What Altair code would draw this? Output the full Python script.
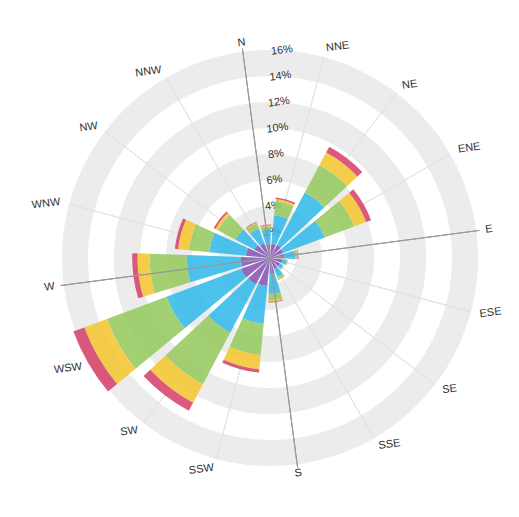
import math
import altair as alt
import pandas as pd

# ---------------- data ----------------
directions = ["N", "NNE", "NE", "ENE", "E", "ESE", "SE", "SSE",
              "S", "SSW", "SW", "WSW", "W", "WNW", "NW", "NNW"]
series_names = ["< 1 m/s", "1-3 m/s", "3-5 m/s", "5-7 m/s", "> 7 m/s"]
series_colors = ["#8658b2", "#33baea", "#95ca5e", "#f5c632", "#d6426b"]

s_purple = [1.05, 1.10, 1.15, 1.10, 1.10, 0.95, 0.90, 0.90, 1.20, 2.17, 2.30, 2.37, 2.25, 1.86, 1.37, 1.20]
s_blue   = [1.15, 2.20, 4.55, 3.40, 0.85, 0.35, 0.25, 0.65, 1.55, 2.93, 4.20, 6.13, 4.15, 2.84, 1.63, 1.20]
s_green  = [0.25, 1.10, 2.40, 2.40, 0.15, 0.05, 0.05, 0.17, 0.50, 2.40, 4.50, 4.90, 2.86, 1.55, 1.55, 0.45]
s_yellow = [0.07, 0.15, 1.10, 1.00, 0.05, 0.02, 0.02, 0.04, 0.10, 1.10, 1.60, 1.85, 0.94, 0.85, 0.20, 0.07]
s_red    = [0.05, 0.12, 0.50, 0.40, 0.05, 0.01, 0.01, 0.04, 0.07, 0.25, 0.70, 0.90, 0.40, 0.25, 0.15, 0.05]

tick_values = [2, 4, 6, 8, 10, 12, 14, 16]
tick_labels = ["2%", "4%", "6%", "8%", "10%", "12%", "14%", "16%"]

# ---------------- layout constants ----------------
ROT = -7.5            # whole figure is turned counter-clockwise
SECTOR = 360 / len(directions)
HALF = 9.5            # half angular width of a bar (degrees)
CX, CY = 262, 250     # centre of the rose inside the view
R_MAX = 208           # pixel radius of 16 %
FONT = "Liberation Sans"
TEXT_ANGLE = 360 + ROT
LABEL_R = 16.7
PCT_BEARING = 10.8

theta_scale = alt.Scale(domain=[0, 360],
                        range=[math.radians(360 + ROT), math.radians(720 + ROT)])
r_scale = alt.Scale(type="linear", domain=[0, 16], range=[0, R_MAX], zero=True, nice=False)

# ---------------- tables ----------------
rows = []
all_series = [s_purple, s_blue, s_green, s_yellow, s_red]
for i, d in enumerate(directions):
    base = 0.0
    for k, (name, vals) in enumerate(zip(series_names, all_series)):
        v = vals[i]
        rows.append(dict(dir=d, series=name, order=k,
                         t0=i * SECTOR - HALF, t1=i * SECTOR + HALF,
                         r0=base, r1=base + v))
        base += v
bars_df = pd.DataFrame(rows)

bands_df = pd.DataFrame({
    "lo": [t - 2 for t in tick_values if t % 4 == 0],
    "hi": [t for t in tick_values if t % 4 == 0],
})
bands_df["t0"] = 0
bands_df["t1"] = 360

spokes_df = pd.DataFrame({"b": [i * SECTOR for i in range(len(directions))],
                          "r0": 0, "r1": 16})
axes_df = pd.DataFrame({"b": [0, 90, 180, 270], "r0": 0, "r1": 16.25})

labels_df = pd.DataFrame({"dir": directions,
                          "b": [i * SECTOR for i in range(len(directions))]})
labels_df["r"] = LABEL_R

pct_df = pd.DataFrame({"v": tick_values, "txt": tick_labels})
pct_df["b"] = PCT_BEARING

cx = alt.value(CX)
cy = alt.value(CY)

# ---------------- layers ----------------
bands = alt.Chart(bands_df).mark_arc(color="#ececec").encode(
    theta=alt.Theta("t0:Q", scale=theta_scale, stack=False),
    theta2="t1:Q",
    radius=alt.Radius("hi:Q", scale=r_scale),
    radius2="lo:Q",
    x=cx, y=cy,
)

spokes = alt.Chart(spokes_df).mark_arc(stroke="#e2e2e2", strokeWidth=1, fillOpacity=0).encode(
    theta=alt.Theta("b:Q", scale=theta_scale, stack=False),
    theta2="b:Q",
    radius=alt.Radius("r1:Q", scale=r_scale),
    radius2="r0:Q",
    x=cx, y=cy,
)

pct = alt.Chart(pct_df).mark_text(font=FONT, fontSize=11, color="#333333",
                                  angle=TEXT_ANGLE, align="center", baseline="middle").encode(
    theta=alt.Theta("b:Q", scale=theta_scale, stack=False),
    radius=alt.Radius("v:Q", scale=r_scale),
    text="txt:N",
    x=cx, y=cy,
)

bars = alt.Chart(bars_df).mark_arc(opacity=0.88).encode(
    theta=alt.Theta("t0:Q", scale=theta_scale, stack=False),
    theta2="t1:Q",
    radius=alt.Radius("r1:Q", scale=r_scale),
    radius2="r0:Q",
    color=alt.Color("series:N", scale=alt.Scale(domain=series_names, range=series_colors), legend=None),
    order=alt.Order("order:Q"),
    x=cx, y=cy,
)

axes = alt.Chart(axes_df).mark_arc(stroke="#999999", strokeWidth=1, fillOpacity=0).encode(
    theta=alt.Theta("b:Q", scale=theta_scale, stack=False),
    theta2="b:Q",
    radius=alt.Radius("r1:Q", scale=r_scale),
    radius2="r0:Q",
    x=cx, y=cy,
)

def dir_text(align, names):
    sub = labels_df[labels_df["dir"].isin(names)]
    return alt.Chart(sub).mark_text(font=FONT, fontSize=11, color="#333333",
                                    angle=TEXT_ANGLE, align=align, baseline="middle").encode(
        theta=alt.Theta("b:Q", scale=theta_scale, stack=False),
        radius=alt.Radius("r:Q", scale=r_scale),
        text="dir:N",
        x=cx, y=cy,
    )

lab_c = dir_text("center", ["N", "S"])
lab_l = dir_text("left", directions[1:8])
lab_r = dir_text("right", directions[9:16])

chart = alt.layer(bands, spokes, pct, bars, axes, lab_c, lab_l, lab_r).properties(
    width=503, height=501,
    autosize=alt.AutoSizeParams(type="none"),
    padding=0,
).configure_view(stroke=None)

chart.save("out.html", embed_options={"renderer": "svg", "actions": False})
